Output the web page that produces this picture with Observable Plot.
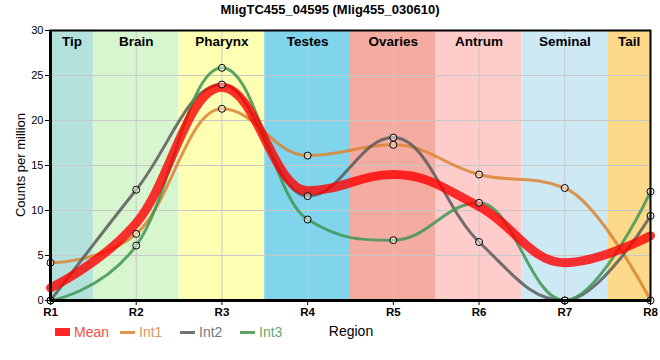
<!DOCTYPE html>
<html>
<head>
<meta charset="utf-8">
<script src="https://cdn.jsdelivr.net/npm/d3@7"></script>
<script src="https://cdn.jsdelivr.net/npm/@observablehq/plot@0.6"></script>
<style>
  body { margin: 0; background: #fff; font-family: "Liberation Sans", Arial, sans-serif; }
  #wrap { position: relative; width: 660px; height: 360px; overflow: hidden; }
  #title { position: absolute; top: 2px; left: 0; width: 660px; text-align: center; font-weight: bold; font-size: 13px; color: #000; }
  #chart { position: absolute; top: 20px; left: 0; }
  #ylab { position: absolute; left: 20px; top: 165px; transform: translate(-50%, -50%) rotate(-90deg); font-size: 13px; white-space: nowrap; color: #000; }
  #legend { position: absolute; top: 323px; left: 0; width: 660px; height: 20px; font-size: 14px; }
  .item { position: absolute; top: 0; display: flex; align-items: center; height: 18px; }
  .sw { display: inline-block; width: 15px; margin-right: 4px; }
  #xlab { position: absolute; top: 323px; left: 351px; transform: translateX(-50%); font-size: 14px; color: #000; }
</style>
</head>
<body>
<div id="wrap">
  <div id="title"></div>
  <div id="chart"></div>
  <div id="ylab">Counts per million</div>
  <div id="legend"></div>
  <div id="xlab">Region</div>
</div>
<script>
const title = "MligTC455_04595 (Mlig455_030610)";
const regions = ["R1", "R2", "R3", "R4", "R5", "R6", "R7", "R8"];
const tissues = ["Tip", "Brain", "Pharynx", "Testes", "Ovaries", "Antrum", "Seminal", "Tail"];
const tissueColors = ["#b3e2dd", "#d7f5cf", "#ffffb3", "#80d4eb", "#f5aca0", "#ffcccc", "#cdeaf4", "#fdd98a"];
const yTicks = [0, 5, 10, 15, 20, 25, 30];

const meanValues = [1.4, 8.6, 23.7, 12.2, 14.0, 10.45, 4.2, 7.2];
const int1Values = [4.2, 7.4, 21.3, 16.1, 17.3, 14.0, 12.5, 0];
const int2Values = [0, 12.3, 24.0, 11.6, 18.1, 6.5, 0, 9.4];
const int3Values = [0, 6.1, 25.85, 9.0, 6.7, 10.85, 0, 12.1];

const seriesNames = ["Mean", "Int1", "Int2", "Int3"];
const seriesColors = {Mean: "#ff0000", Int1: "#da8433", Int2: "#5a5a5a", Int3: "#3f9553"};
const legendTextColors = {Mean: "#ff4a4a", Int1: "#e3975a", Int2: "#777777", Int3: "#66a873"};
const legendLeft = {Mean: 55, Int1: 120, Int2: 180, Int3: 240};

document.getElementById("title").textContent = title;

// Spline curve with control points at 40% of the neighbour distance, flat at extremes
function smoothSpline(context) {
  let pts;
  const smoothing = 1.5, denom = smoothing + 1;
  return {
    areaStart() {}, areaEnd() {},
    lineStart() { pts = []; },
    point(x, y) { pts.push([+x, +y]); },
    lineEnd() {
      const n = pts.length;
      if (!n) return;
      context.moveTo(pts[0][0], pts[0][1]);
      let prevRC = null;
      for (let i = 1; i < n; i++) {
        const [x, y] = pts[i];
        let lc = [x, y], rc = null;
        if (i < n - 1) {
          const [lx, ly] = pts[i - 1], [nx, ny] = pts[i + 1];
          let lcx = (smoothing * x + lx) / denom, lcy = (smoothing * y + ly) / denom;
          let rcx = (smoothing * x + nx) / denom, rcy = (smoothing * y + ny) / denom;
          let corr = 0;
          if (rcx !== lcx) corr = ((rcy - lcy) * (rcx - x)) / (rcx - lcx) + y - rcy;
          lcy += corr; rcy += corr;
          if (lcy > ly && lcy > y) { lcy = Math.max(ly, y); rcy = 2 * y - lcy; }
          else if (lcy < ly && lcy < y) { lcy = Math.min(ly, y); rcy = 2 * y - lcy; }
          if (rcy > ny && rcy > y) { rcy = Math.max(ny, y); lcy = 2 * y - rcy; }
          else if (rcy < ny && rcy < y) { rcy = Math.min(ny, y); lcy = 2 * y - rcy; }
          lc = [lcx, lcy]; rc = [rcx, rcy];
        }
        const c1 = prevRC || pts[i - 1];
        context.bezierCurveTo(c1[0], c1[1], lc[0], lc[1], x, y);
        prevRC = rc;
      }
    }
  };
}

const n = regions.length;
const bands = tissues.map((t, i) => ({
  name: t,
  color: tissueColors[i],
  x1: Math.max(1, i + 0.5),
  x2: Math.min(n, i + 1.5),
  xc: (Math.max(1, i + 0.5) + Math.min(n, i + 1.5)) / 2
}));

function toRows(name, vals) {
  return vals.map((v, i) => ({series: name, x: i + 1, y: v}));
}
const int1 = toRows("Int1", int1Values);
const int2 = toRows("Int2", int2Values);
const int3 = toRows("Int3", int3Values);
const mean = toRows("Mean", meanValues);
const dots = [...int1, ...int2, ...int3];

const xTicks = regions.map((r, i) => i + 1);

const chart = Plot.plot({
  width: 660,
  height: 305,
  marginTop: 10,
  marginLeft: 50,
  marginRight: 10,
  marginBottom: 25,
  style: {fontFamily: "'Liberation Sans', Arial, sans-serif", fontSize: "11px", background: "transparent", color: "#000"},
  x: {domain: [1, n]},
  y: {domain: [0, 30]},
  marks: [
    Plot.rect(bands, {x1: "x1", x2: "x2", y1: 0, y2: 30, fill: "color"}),
    Plot.gridX(xTicks, {stroke: "#c8c8c8", strokeOpacity: 1}),
    Plot.gridY(yTicks, {stroke: "#c8c8c8", strokeOpacity: 1}),
    Plot.text(bands, {x: "xc", y: 30, text: "name", dy: 11, fontWeight: "bold", fontSize: 13.5, fill: "#000"}),
    Plot.line(int1, {x: "x", y: "y", curve: smoothSpline, stroke: seriesColors.Int1, strokeWidth: 3, strokeOpacity: 0.85}),
    Plot.line(int2, {x: "x", y: "y", curve: smoothSpline, stroke: seriesColors.Int2, strokeWidth: 3, strokeOpacity: 0.85}),
    Plot.line(int3, {x: "x", y: "y", curve: smoothSpline, stroke: seriesColors.Int3, strokeWidth: 3, strokeOpacity: 0.85}),
    Plot.line(mean, {x: "x", y: "y", curve: smoothSpline, stroke: seriesColors.Mean, strokeWidth: 9, strokeOpacity: 0.8}),
    Plot.dot(dots, {x: "x", y: "y", r: 3.5, stroke: "#000", strokeWidth: 1, fill: "white", fillOpacity: 0.45}),
    Plot.frame({stroke: "#000", strokeWidth: 2}),
    Plot.ruleX([1], {stroke: "#000", strokeWidth: 3}),
    Plot.ruleY([0], {stroke: "#000", strokeWidth: 3}),
    Plot.axisX(xTicks, {tickFormat: i => regions[i - 1], tickSize: 5, tickPadding: 2, fontSize: 11.5, fontWeight: "bold", label: null}),
    Plot.axisY(yTicks, {tickSize: 5, tickPadding: 2, fontSize: 11, label: null})
  ]
});
document.getElementById("chart").appendChild(chart);

const legend = document.getElementById("legend");
seriesNames.forEach(s => {
  const item = document.createElement("div");
  item.className = "item";
  item.style.left = legendLeft[s] + "px";
  const sw = document.createElement("span");
  sw.className = "sw";
  sw.style.height = s === "Mean" ? "8px" : "3px";
  sw.style.background = seriesColors[s];
  sw.style.opacity = 0.85;
  const tx = document.createElement("span");
  tx.textContent = s;
  tx.style.color = legendTextColors[s];
  item.appendChild(sw);
  item.appendChild(tx);
  legend.appendChild(item);
});
</script>
</body>
</html>
